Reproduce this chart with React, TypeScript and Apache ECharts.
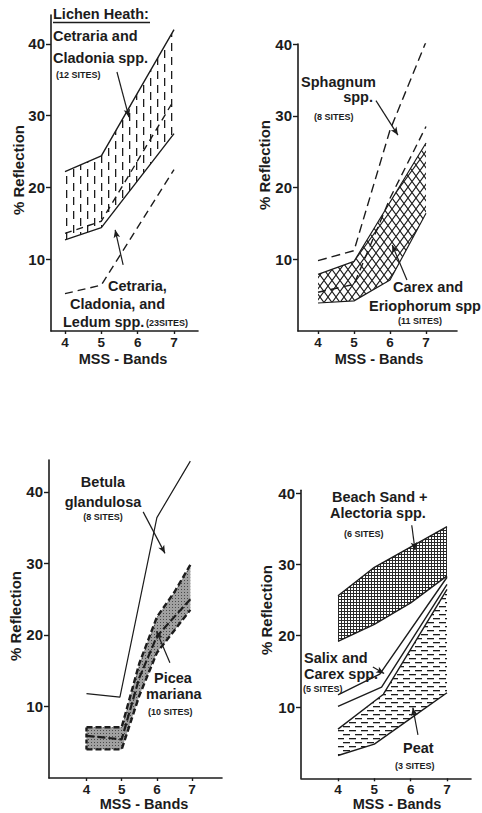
import { useEffect, useRef } from "react";
import * as echarts from "echarts";

// ---------- data ----------
const MSS_BANDS = [4, 5, 6, 7];
const Y_TICKS = [10, 20, 30, 40];

// Panel 1 – Lichen heath
const P1_CLADONIA_TOP = [[4, 22.2], [5, 24.4], [7, 42]];
const P1_CLADONIA_MEAN = [[4, 13.6], [5, 15.3], [7, 32.2]];
const P1_CLADONIA_BOT = [[4, 12.7], [5, 14.4], [7, 27.5]];
const P1_LEDUM = [[4, 5.2], [5, 6.4], [7, 22.5]];

// Panel 2 – Sphagnum / Carex
const P2_SPHAGNUM = [[4, 9.8], [5, 11.2], [6, 28], [7, 40.3]];
const P2_CAREX_TOP = [[4, 7.9], [5, 9.7], [7, 26.2]];
const P2_CAREX_MEAN = [[4, 5.4], [5, 6.5], [6, 18.5], [7, 28.5]];
const P2_CAREX_BOT = [[4, 3.9], [5, 4.2], [6, 7.1], [7, 16.4]];

// Panel 3 – Betula / Picea
const P3_BETULA = [[4, 11.8], [4.95, 11.3], [6, 36.4], [6.95, 44.3]];
const P3_PICEA_UP = [[4, 7.1], [5, 7.1], [5.5, 16], [6, 22.5], [6.5, 26], [6.95, 29.8]];
const P3_PICEA_MID = [[4, 5.9], [5, 5.4], [5.5, 14], [6, 19.8], [6.95, 25]];
const P3_PICEA_LOW = [[4, 4.0], [5, 4.0], [5.5, 11.5], [6, 17.5], [6.95, 23.5]];

// Panel 4 – Beach sand / Salix / Peat
const P4_BEACH_TOP = [[4, 25.6], [5, 29.6], [7, 35.3]];
const P4_BEACH_BOT = [[4, 19.2], [5, 21.6], [6, 24.6], [7, 28.4]];
const P4_SALIX_UP = [[4, 11.7], [5.15, 14.6], [7, 28.2]];
const P4_SALIX_LOW = [[4, 10.1], [5.2, 12.8], [7, 27.2]];
const P4_PEAT_TOP = [[4, 6.9], [5.25, 11.8], [7, 26.5]];
const P4_PEAT_BOT = [[4, 3.2], [5, 4.8], [6, 8.4], [7, 12]];

// annotation arrows (data coordinates: from, to)
const P1_ARROWS = [[[5.43, 36.1], [5.76, 29.8]], [[5.6, 9.2], [5.38, 14.1]]];
const P2_ARROWS = [[[5.61, 32.1], [6.22, 27.3]], [[6.47, 7.1], [6.06, 12]]];
const P3_ARROWS = [[[5.61, 37.2], [6.23, 31.4]], [[6.37, 16.1], [5.99, 20.5]]];
const P4_ARROWS = [[[6.03, 35.5], [6.12, 32.0]], [[4.96, 15.6], [5.27, 14.7]], [[6.2, 6.1], [6.06, 9.9]]];

// ---------- styling ----------
const INK = "#1c1c1c";
const FONT = '"Liberation Sans", Arial, sans-serif';

function makePattern(w: number, h: number, draw: (c: CanvasRenderingContext2D) => void) {
  const cv = document.createElement("canvas");
  cv.width = w;
  cv.height = h;
  const ctx = cv.getContext("2d")!;
  draw(ctx);
  return { image: cv, repeat: "repeat", imageWidth: w, imageHeight: h } as any;
}

const grids = [
  { left: 51, top: 15, width: 147, height: 316, xmin: 3.615, xmax: 7.66, ymax: 44.04 },
  { left: 298, top: 44, width: 159, height: 287, xmin: 3.444, xmax: 7.861, ymax: 40 },
  { left: 49, top: 460, width: 173, height: 318, xmin: 2.935, xmax: 7.85, ymax: 44.45 },
  { left: 301, top: 490.3, width: 170, height: 288, xmin: 2.982, xmax: 7.66, ymax: 40.4 },
];

type Lbl = { t: string; x: number; y: number; s?: number; a?: string };
const LABELS: Lbl[] = [
  { t: "Lichen Heath:", x: 53, y: 14 },
  { t: "Cetraria and", x: 53, y: 36 },
  { t: "Cladonia spp.", x: 53, y: 58 },
  { t: "(12 SITES)", x: 56, y: 75, s: 9 },
  { t: "Cetraria,", x: 108, y: 286 },
  { t: "Cladonia, and", x: 70, y: 304 },
  { t: "Ledum spp.", x: 63, y: 322 },
  { t: "(23SITES)", x: 146, y: 323, s: 9 },
  { t: "Sphagnum", x: 301, y: 82 },
  { t: "spp.", x: 373, y: 97, a: "right" },
  { t: "(8 SITES)", x: 314, y: 117, s: 9 },
  { t: "Carex and", x: 393, y: 287 },
  { t: "Eriophorum spp", x: 369, y: 306 },
  { t: "(11 SITES)", x: 398, y: 321, s: 9 },
  { t: "Betula", x: 103, y: 482, a: "center" },
  { t: "glandulosa", x: 103, y: 502, a: "center" },
  { t: "(8 SITES)", x: 103, y: 517, s: 9, a: "center" },
  { t: "Picea", x: 154, y: 678 },
  { t: "mariana", x: 146, y: 694 },
  { t: "(10 SITES)", x: 148, y: 712, s: 9 },
  { t: "Beach Sand +", x: 332, y: 497 },
  { t: "Alectoria spp.", x: 330, y: 513 },
  { t: "(6 SITES)", x: 344, y: 534, s: 9 },
  { t: "Salix and", x: 304, y: 658 },
  { t: "Carex spp.", x: 304, y: 674 },
  { t: "(5 SITES)", x: 303, y: 689, s: 9 },
  { t: "Peat", x: 403, y: 748 },
  { t: "(3 SITES)", x: 395, y: 766, s: 9 },
];

const Y_NAMES = [
  [18.5, 170],
  [264.5, 165],
  [15, 616],
  [266, 610],
];
const X_NAMES = [
  [123, 359],
  [379, 359],
  [144, 804],
  [397, 804],
];

export default function App() {
  const ref = useRef<HTMLDivElement>(null);
  useEffect(() => {
    if (!ref.current) return;
    const chart = echarts.init(ref.current, undefined, { renderer: "svg" });

    const vdash = makePattern(14, 14, (c) => {
      c.fillStyle = INK;
      c.fillRect(3, 1, 1.3, 8);
      c.fillRect(10, 8, 1.3, 6);
      c.fillRect(10, 0, 1.3, 2);
    });
    const cross = makePattern(8, 11, (c) => {
      c.strokeStyle = INK;
      c.lineWidth = 1.1;
      c.beginPath();
      c.moveTo(0, 0);
      c.lineTo(8, 11);
      c.moveTo(8, 0);
      c.lineTo(0, 11);
      c.stroke();
    });
    const stipple = makePattern(3, 3, (c) => {
      c.fillStyle = "#a0a0a0";
      c.fillRect(0, 0, 3, 3);
      c.fillStyle = "#4a4a4a";
      c.fillRect(1, 1, 1, 1);
    });
    const dense = makePattern(6, 6, (c) => {
      c.fillStyle = "#2a2a2a";
      c.fillRect(0, 0, 6, 6);
      c.fillStyle = "#ffffff";
      c.fillRect(0, 0, 2, 2);
      c.fillRect(3, 0, 2, 2);
      c.fillRect(0, 3, 2, 2);
      c.fillRect(3, 3, 2, 2);
    });
    const hdash = makePattern(12, 8, (c) => {
      c.fillStyle = INK;
      c.fillRect(1, 2, 7, 1.3);
      c.fillRect(7, 6, 5, 1.3);
      c.fillRect(0, 6, 2, 1.3);
    });

    const yFont = { fontFamily: FONT, fontWeight: "bold" as const, fontSize: 15, color: INK };
    const xFont = { fontFamily: FONT, fontWeight: "bold" as const, fontSize: 13.5, color: INK };

    const xAxis = grids.map((g, i) => ({
      gridIndex: i,
      type: "value",
      min: g.xmin,
      max: g.xmax,
      axisLine: { show: true, onZero: false, lineStyle: { color: INK, width: 1.6 } },
      axisTick: { show: true, length: 3, customValues: MSS_BANDS, lineStyle: { color: INK, width: 1.4 } },
      axisLabel: { show: true, customValues: MSS_BANDS, margin: 4, ...xFont },
      splitLine: { show: false },
    }));
    const yAxis = grids.map((g, i) => ({
      gridIndex: i,
      type: "value",
      min: 0,
      max: g.ymax,
      axisLine: { show: true, onZero: false, lineStyle: { color: INK, width: 1.6 } },
      axisTick: { show: true, length: 5, customValues: Y_TICKS, lineStyle: { color: INK, width: 1.4 } },
      axisLabel: { show: true, customValues: Y_TICKS, margin: 6, ...yFont },
      splitLine: { show: false },
    }));

    const line = (gi: number, data: number[][], opts: any = {}) => ({
      type: "line",
      xAxisIndex: gi,
      yAxisIndex: gi,
      data,
      symbol: "none",
      silent: true,
      z: 3,
      lineStyle: { color: INK, width: opts.width ?? 1.4, type: opts.type ?? "solid" },
      ...(opts.arrows
        ? {
            markLine: {
              silent: true,
              symbol: ["none", "arrow"],
              symbolSize: [5, 8],
              label: { show: false },
              lineStyle: { color: INK, width: 1.2, type: "solid" },
              data: opts.arrows.map((a: number[][]) => [{ coord: a[0] }, { coord: a[1] }]),
            },
          }
        : {}),
    });

    const band = (gi: number, upper: number[][], lower: number[][], fill: any) => ({
      type: "custom",
      coordinateSystem: "cartesian2d",
      xAxisIndex: gi,
      yAxisIndex: gi,
      silent: true,
      z: 1,
      data: [[upper[0][0], upper[0][1]]],
      renderItem: (_p: any, api: any) => {
        const pts = upper.map((p) => api.coord(p)).concat(lower.slice().reverse().map((p) => api.coord(p)));
        return { type: "polygon", shape: { points: pts }, style: { fill, stroke: null } };
      },
    });

    const series: any[] = [
      // panel 1
      band(0, P1_CLADONIA_TOP, P1_CLADONIA_BOT, vdash),
      line(0, P1_CLADONIA_TOP, { arrows: P1_ARROWS }),
      line(0, P1_CLADONIA_BOT),
      line(0, P1_CLADONIA_MEAN, { type: [7, 5] }),
      line(0, P1_LEDUM, { type: [8, 5] }),
      // panel 2
      band(1, P2_CAREX_TOP, P2_CAREX_BOT, cross),
      line(1, P2_CAREX_TOP, { width: 1.2, arrows: P2_ARROWS }),
      line(1, P2_CAREX_BOT, { width: 1.2 }),
      line(1, P2_CAREX_MEAN, { type: [8, 5] }),
      line(1, P2_SPHAGNUM, { type: [9, 5] }),
      // panel 3
      band(2, P3_PICEA_UP, P3_PICEA_LOW, stipple),
      line(2, P3_BETULA, { width: 1.2, arrows: P3_ARROWS }),
      line(2, P3_PICEA_UP, { width: 2.4, type: [6, 3] }),
      line(2, P3_PICEA_LOW, { width: 2.4, type: [6, 3] }),
      line(2, [P3_PICEA_LOW[0], P3_PICEA_UP[0]], { width: 2.4, type: [4, 2] }),
      line(2, P3_PICEA_MID, { width: 2.2, type: [8, 3] }),
      // panel 4
      band(3, P4_BEACH_TOP, P4_BEACH_BOT, dense),
      band(3, P4_PEAT_TOP, P4_PEAT_BOT, hdash),
      line(3, P4_BEACH_TOP, { arrows: P4_ARROWS }),
      line(3, P4_BEACH_BOT),
      line(3, P4_SALIX_UP),
      line(3, P4_SALIX_LOW),
      line(3, P4_PEAT_TOP),
      line(3, P4_PEAT_BOT),
    ];

    const txt = (t: string, x: number, y: number, size = 14.5, align = "left", rotation = 0) => ({
      type: "text",
      x,
      y,
      rotation,
      silent: true,
      style: {
        text: t,
        fill: INK,
        fontFamily: FONT,
        fontWeight: "bold",
        fontSize: size,
        align,
        verticalAlign: "middle",
      },
    });

    const graphic: any[] = [
      ...LABELS.map((l) => txt(l.t, l.x, l.y, l.s ?? 14.5, l.a ?? "left")),
      ...Y_NAMES.map(([x, y]) => txt("% Reflection", x, y, 15, "center", Math.PI / 2)),
      ...X_NAMES.map(([x, y]) => txt("MSS - Bands", x, y, 14.5, "center")),
      { type: "line", silent: true, shape: { x1: 53, y1: 22.5, x2: 150, y2: 22.5 }, style: { stroke: INK, lineWidth: 1.3 } },
    ];

    chart.setOption({
      animation: false,
      backgroundColor: "#ffffff",
      grid: grids.map((g) => ({ left: g.left, top: g.top, width: g.width, height: g.height, containLabel: false })),
      xAxis,
      yAxis,
      series,
      graphic,
    });
    return () => chart.dispose();
  }, []);
  return (
    <div
      ref={ref}
      style={{ position: "absolute", left: 0, top: 0, width: 482, height: 813, background: "#fff" }}
    />
  );
}
